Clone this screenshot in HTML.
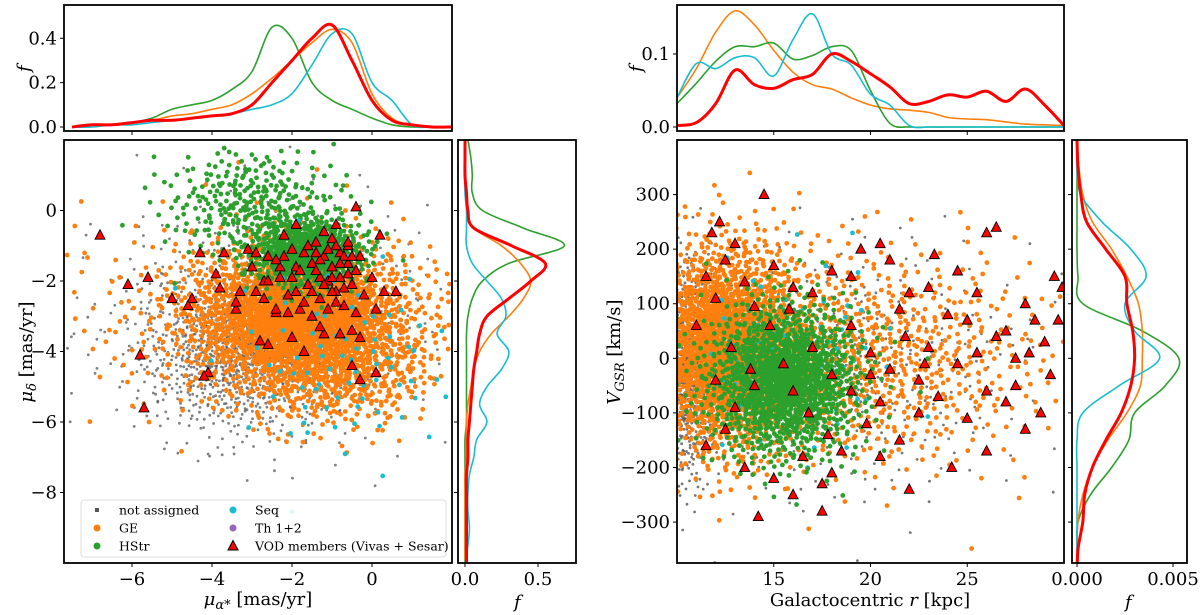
<!DOCTYPE html>
<html><head><meta charset="utf-8">
<style>
html,body{margin:0;padding:0;background:#fff;}
svg{display:block;font-family:"DejaVu Serif","Liberation Serif",serif;}
</style></head>
<body>
<svg id="chart" width="1200" height="615" viewBox="0 0 1200 615" xmlns="http://www.w3.org/2000/svg"></svg>
<script>
// ---------- data ----------
const ltX=[-7.5,-7,-6.5,-6,-5.5,-5,-4.5,-4,-3.5,-3,-2.5,-2,-1.5,-1,-0.5,0,0.5,1,1.5,2];
const ltGreen=[0,0.01,0.01,0.02,0.04,0.08,0.1,0.12,0.17,0.25,0.45,0.40,0.2,0.12,0.08,0.04,0.01,0,0,0];
const ltOrange=[0,0.01,0.01,0.02,0.03,0.05,0.06,0.08,0.1,0.15,0.22,0.3,0.38,0.44,0.38,0.15,0.04,0.01,0,0];
const ltCyan=[0,0,0.01,0.01,0.02,0.03,0.04,0.05,0.06,0.08,0.1,0.15,0.28,0.42,0.42,0.2,0.12,0.01,0,0];
const ltRed=[0,0.01,0.01,0.02,0.03,0.03,0.04,0.05,0.06,0.1,0.2,0.3,0.4,0.46,0.3,0.12,0.03,0.01,0,0];
const lmY=[-10,-9.5,-9,-8.5,-8,-7.5,-7,-6.5,-6,-5.5,-5,-4.5,-4,-3.5,-3,-2.5,-2,-1.5,-1,-0.5,0,0.5,1,1.5,2];
const lmGreen=[0,0,0,0,0,0,0,0,0.01,0.01,0.01,0.01,0.01,0.01,0.02,0.05,0.12,0.3,0.68,0.4,0.12,0.05,0.05,0.04,0.02];
const lmOrange=[0,0,0,0,0,0,0.01,0.01,0.01,0.02,0.04,0.06,0.1,0.18,0.3,0.4,0.45,0.38,0.25,0.06,0.02,0.01,0,0,0];
const lmRed=[0.01,0.01,0.01,0.01,0.01,0.01,0.02,0.02,0.03,0.04,0.05,0.06,0.08,0.1,0.15,0.3,0.45,0.55,0.32,0.06,0.02,0.01,0,0,0];
const lmCyan=[0,0.02,0.03,0.02,0.02,0.03,0.06,0.08,0.15,0.1,0.15,0.25,0.3,0.22,0.28,0.25,0.15,0.05,0.01,0.01,0.01,0,0,0,0];
const rtX=[10,11,12,13,14,15,16,17,18,19,20,21,22,23,24,25,26,27,28,29,30];
const rtOrange=[0.04,0.08,0.13,0.159,0.14,0.105,0.075,0.058,0.052,0.04,0.03,0.025,0.023,0.02,0.013,0.011,0.01,0.007,0.004,0.003,0.002];
const rtGreen=[0.032,0.06,0.09,0.11,0.11,0.115,0.093,0.098,0.11,0.105,0.05,0.005,0,0,0,0,0,0,0,0,0];
const rtCyan=[0.04,0.087,0.08,0.095,0.095,0.07,0.12,0.155,0.1,0.085,0.045,0.03,0.002,0,0,0,0,0,0,0,0];
const rtRed=[0.002,0.006,0.032,0.078,0.058,0.053,0.065,0.072,0.1,0.09,0.073,0.055,0.032,0.035,0.044,0.041,0.049,0.035,0.052,0.03,0.002];
const rmY=[-400,-350,-300,-250,-200,-150,-100,-50,0,50,100,150,200,250,300,350,400];
const rmGreen=[0,0,0.05,0.7,1.8,2.7,3.0,4.6,5.3,3.4,0.3,0.05,0,0,0,0,0];
const rmCyan=[0,0,0,0,0,0,0.3,2.2,4.3,3.0,2.5,3.6,2.8,1.3,0.2,0,0];
const rmOrange=[0,0,0.05,0.3,0.8,1.6,2.6,3.3,3.4,3.4,3.2,2.6,1.8,0.8,0.3,0.1,0];
const rmRed=[0,0.05,0.3,0.4,0.8,1.5,2.3,2.8,3.0,2.9,2.6,2.5,1.5,0.5,0.2,0.05,0];
// scatter population descriptors: [centerX, centerY, sdX, sdY, count]
const lGrey=[[-3.3,-4,1.2,1.1,1000],[-2.5,-3,2.2,1.8,500]];
const lOrange=[[-1.8,-3,1.4,1.0,2000],[-0.9,-4.5,1.2,0.8,500],[-3,-3,2.5,1.5,300]];
const lGreen=[[-1.6,-1.2,0.7,0.5,700],[-3,0.2,1.1,0.8,300]];
const lCyan=[[-0.6,-4.3,1.4,1.5,80]];
const rGrey=[[10.6,-20,0.6,100,600],[18,-20,5,110,500]];
const rOrange=[[12.5,20,2,95,2000],[19,0,5,100,900]];
const rGreen=[[15.5,-40,2,70,1300]];
const rCyan=[[16,0,2.5,90,80]];
const lTri=[[-6.8,-0.7],[-6.1,-2.1],[-5.8,-4.1],[-5.7,-5.6],[-5.6,-1.9],[-5.0,-2.5],[-4.5,-2.5],[-4.1,-4.6],[-4.2,-4.7],[-3.9,-1.8],[-4.3,-1.2],[-3.8,-2.2],[-3.7,-1.2],[-3.3,-2.3],[-3.4,-2.8],[-3.0,-1.6],[-2.9,-1.2],[-2.8,-3.7],[-2.7,-2.0],[-2.6,-1.3],[-2.6,-3.8],[-2.4,-2.9],[-2.3,-1.9],[-2.2,-0.7],[-2.1,-2.4],[-2.0,-3.6],[-1.9,-1.6],[-1.9,-0.4],[-1.8,-2.8],[-1.7,-1.2],[-1.6,-2.1],[-1.5,-3.0],[-1.5,-1.5],[-1.4,-0.9],[-1.3,-1.9],[-1.3,-2.5],[-1.2,-1.3],[-1.2,-3.5],[-1.1,-2.0],[-1.0,-0.8],[-1.0,-1.6],[-0.9,-2.3],[-0.8,-3.5],[-0.8,-1.2],[-0.8,-1.9],[-0.7,-2.7],[-0.9,-0.4],[-0.6,-1.5],[-0.5,-3.4],[-0.5,-2.1],[-0.6,-1.0],[-0.4,-1.7],[-0.4,-2.9],[-0.3,-1.3],[0.1,-4.6],[-0.2,-2.4],[0.0,-1.9],[0.1,-2.8],[-0.3,-4.8],[-0.4,0.1],[0.2,-0.7],[0.3,-2.3],[0.6,-2.3],[-0.5,-4.4],[-2.4,-2.8],[-1.9,-2.3],[-2.6,-2.0],[-3.1,-1.1],[-1.2,-0.6],[-1.7,-4.0],[-4.6,-2.7],[-3.4,-2.6],
 [-1.1,-1.1],[-0.9,-1.0],[-0.7,-1.3],[-1.3,-1.4],[-0.6,-1.8],[-1.0,-2.3],[-0.8,-1.5],[-1.4,-1.7],[-0.5,-1.3],[-1.6,-1.0],[-2.2,-1.3],[-2.0,-1.1],[-1.8,-1.7],[-2.3,-1.6],[-1.5,-2.3],[-1.2,-2.1],[-0.9,-2.6],[-1.1,-2.8],[-0.7,-2.2],[-2.0,-1.9],[-2.4,-1.4],[-2.7,-2.5],[-2.9,-2.3],[-1.7,-2.6],[-2.1,-2.9],[-1.3,-3.3],[-0.3,-3.6],[-0.6,-0.9],[-1.0,-1.9],[-1.4,-1.2]];
const rTri=[[14.5,300],[12.2,250],[11.8,230],[13,210],[12.5,180],[15,170],[11.5,150],[13.5,140],[16,130],[12,110],[14,95],[17,120],[18,160],[19,150],[19.5,200],[20.5,210],[21,180],[22,120],[21.5,90],[23,130],[24,80],[25,70],[26,230],[26.5,240],[25.5,120],[27,50],[28,100],[28.5,70],[29,30],[29.5,150],[29.9,130],[23,20],[24.5,-10],[22.5,-40],[21,-20],[20,10],[19,60],[18,-30],[17,20],[16,-60],[15.5,-10],[14,-50],[13,-90],[12.5,-130],[11.5,-160],[13.5,-200],[15,-220],[16.5,-180],[17.5,-230],[18.5,-170],[19.8,-120],[20.5,-80],[21.5,-150],[22.5,-100],[23.5,-70],[24.2,-200],[25,-110],[26,-60],[27,-80],[28,-130],[28.8,-100],[29.3,-30],[27.5,0],[26.5,40],[25.5,10],[14.2,-290],[17.5,-280],[16,-250],[18,-210],[12,-40],[11,60],[12.8,20],[13.8,-20],[14.8,60],[15.8,90],[16.8,-100],[17.8,-140],[19,-60],[20.5,-180],[22,-240],[20,-30],[21.8,40],[23.3,190],[24.5,160],[22.8,-10],[27.5,-50],[26,-170],[29.7,70],[28.2,10]];
const lxTicks=[-6,-4,-2,0];
const lyTicks=[0,-2,-4,-6,-8];
const ltTicks=[0,0.2,0.4];
const lmTicks=[0,0.5];
const rxTicks=[15,20,25];
const ryTicks=[300,200,100,0,-100,-200,-300];
const rtTicks=[0,0.1];
const rmTicks=[0,0.005];

// ---------- helpers ----------
const NS='http://www.w3.org/2000/svg';
const svg=document.getElementById('chart');
const FS=18;
function mk(tag,attrs,parent){const e=document.createElementNS(NS,tag);for(const k in attrs)e.setAttribute(k,attrs[k]);(parent||svg).appendChild(e);return e;}
function lin(d0,d1,r0,r1){return v=>r0+(v-d0)*(r1-r0)/(d1-d0);}
function halton(i,b){let f=1,r=0;while(i>0){f/=b;r+=f*(i%b);i=Math.floor(i/b);}return r;}
function spline(pts){let d='M'+pts[0][0].toFixed(1)+','+pts[0][1].toFixed(1);
 for(let i=0;i<pts.length-1;i++){const p0=pts[Math.max(0,i-1)],p1=pts[i],p2=pts[i+1],p3=pts[Math.min(pts.length-1,i+2)];
  const c1=[p1[0]+(p2[0]-p0[0])/6,p1[1]+(p2[1]-p0[1])/6],c2=[p2[0]-(p3[0]-p1[0])/6,p2[1]-(p3[1]-p1[1])/6];
  d+='C'+c1[0].toFixed(1)+','+c1[1].toFixed(1)+' '+c2[0].toFixed(1)+','+c2[1].toFixed(1)+' '+p2[0].toFixed(1)+','+p2[1].toFixed(1);}
 return d;}
function clip(id,x,y,w,h){const c=mk('clipPath',{id:id});mk('rect',{x:x,y:y,width:w,height:h},c);}
function frame(x,y,w,h,name){const r=mk('rect',{x:x,y:y,width:w,height:h,fill:'none',stroke:'#000','stroke-width':1.8});
 }
function txt(s,x,y,o,name){const t=mk('text',Object.assign({x:x,y:y,'font-size':FS,fill:'#000'},o||{}));t.textContent=s;
 return t;}
function xTicks(ticks,sx,yb,labels,fmt,name){ticks.forEach(v=>{const x=sx(v);mk('line',{x1:x,x2:x,y1:yb,y2:yb+4,stroke:'#000','stroke-width':1});
 if(labels){txt(fmt(v),x,yb+22,{'text-anchor':'middle'},name);}});}
function yTicks(ticks,sy,xl,labels,fmt,name){ticks.forEach(v=>{const y=sy(v);mk('line',{x1:xl-4,x2:xl,y1:y,y2:y,stroke:'#000','stroke-width':1});
 if(labels){txt(fmt(v),xl-7,y+6,{'text-anchor':'end'},name);}});}
function minus(s){return s.replace('-','\u2212');}
function cloud(groups,sx,sy,color,r,op,cp,name,off){const g=mk('g',{'clip-path':'url(#'+cp+')',fill:color,'fill-opacity':op});
 
 let idx=off;groups.forEach(gr=>{for(let k=0;k<gr[4];k++){idx++;const u1=Math.max(1e-6,halton(idx,2)),u2=halton(idx,3);
  const m=Math.sqrt(-2*Math.log(u1));const zx=m*Math.cos(2*Math.PI*u2),zy=m*Math.sin(2*Math.PI*u2);
  mk('circle',{cx:sx(gr[0]+gr[2]*zx).toFixed(1),cy:sy(gr[1]+gr[3]*zy).toFixed(1),r:r},g);}});}
function tris(list,sx,sy,cp,name){const g=mk('g',{'clip-path':'url(#'+cp+')'});
 list.forEach(p=>{const x=sx(p[0]),y=sy(p[1]);const t=mk('polygon',{points:(x-5)+','+(y+4)+' '+(x+5)+','+(y+4)+' '+x+','+(y-5.5),fill:'#ff0000',stroke:'#000','stroke-width':0.9},g);
  });}
function curveH(xs,ys,sx,sy,color,w,cp,name){const p=mk('path',{d:spline(xs.map((v,i)=>[sx(v),sy(ys[i])])),fill:'none',stroke:color,'stroke-width':w,'clip-path':'url(#'+cp+')'});
 }
function curveV(ys,xs,sx,sy,color,w,cp,name){const p=mk('path',{d:spline(ys.map((v,i)=>[sx(xs[i]),sy(v)])),fill:'none',stroke:color,'stroke-width':w,'clip-path':'url(#'+cp+')'});
 }

const C={grey:'#555',orange:'#ff7f0e',green:'#2ca02c',cyan:'#17becf',purple:'#9467bd',red:'#ff0000'};

// ---------- LEFT ----------
const L={x:64,y:140,w:388,h:423};
const lsx=lin(-7.7,2.0,L.x,L.x+L.w), lsy=lin(2,-10,L.y,L.y+L.h);
clip('cpL',L.x,L.y,L.w,L.h);
cloud(lGrey,lsx,lsy,C.grey,1.4,0.75,'cpL','not-assigned-points',0);
cloud(lOrange,lsx,lsy,C.orange,2.4,1,'cpL','ge-points',3000);
cloud(lGreen,lsx,lsy,C.green,2.4,1,'cpL','hstr-points',7000);
cloud(lCyan,lsx,lsy,C.cyan,2.4,1,'cpL','seq-points',11000);
tris(lTri,lsx,lsy,'cpL','vod-members-left');
frame(L.x,L.y,L.w,L.h,'left-main-panel');
xTicks(lxTicks,lsx,L.y+L.h,true,v=>minus(String(v)),'left-x-tick-label');
yTicks(lyTicks,lsy,L.x,true,v=>minus(String(v)),'left-y-tick-label');
const lxl=txt('',258,605,{'text-anchor':'middle'},'left-x-axis-title');lxl.innerHTML='<tspan font-style="italic">μ</tspan><tspan font-size="13" dy="4" font-style="italic">α*</tspan><tspan dy="-4"> [mas/yr]</tspan>';
const lyl=txt('',32,352,{'text-anchor':'middle',transform:'rotate(-90 32 352)'},'left-y-axis-title');lyl.innerHTML='<tspan font-style="italic">μ</tspan><tspan font-size="13" dy="4" font-style="italic">δ</tspan><tspan dy="-4"> [mas/yr]</tspan>';
// legend
const lg=mk('g',{});
mk('rect',{x:81,y:500,width:365,height:57,rx:3,fill:'#fff','fill-opacity':0.85,stroke:'#ddd'},lg);
const legItems=[['not assigned','sq',C.grey,97,510],['GE','c',C.orange,97,528],['HStr','c',C.green,97,546],['Seq','c',C.cyan,233,510],['Th 1+2','c',C.purple,233,528],['VOD members (Vivas + Sesar)','t',C.red,233,546]];
legItems.forEach(it=>{const g=mk('g',{},lg);
 if(it[1]==='sq')mk('rect',{x:it[3]-2,y:it[4]-2,width:4,height:4,fill:it[2]},g);
 else if(it[1]==='c')mk('circle',{cx:it[3],cy:it[4],r:3.5,fill:it[2]},g);
 else mk('polygon',{points:(it[3]-5)+','+(it[4]+4)+' '+(it[3]+5)+','+(it[4]+4)+' '+it[3]+','+(it[4]-5.5),fill:it[2],stroke:'#000'},g);
 const t=mk('text',{x:it[3]+22,y:it[4]+4.5,'font-size':12.5},g);t.textContent=it[0];});
// left top
const LT={x:64,y:5,w:388,h:126};
const ltsy=lin(0,0.55,127,5);
clip('cpLT',LT.x,LT.y,LT.w,LT.h);
curveH(ltX,ltGreen,lsx,ltsy,C.green,1.6,'cpLT','left-top-hstr-kde');
curveH(ltX,ltOrange,lsx,ltsy,C.orange,1.6,'cpLT','left-top-ge-kde');
curveH(ltX,ltCyan,lsx,ltsy,C.cyan,1.6,'cpLT','left-top-seq-kde');
curveH(ltX,ltRed,lsx,ltsy,C.red,3,'cpLT','left-top-vod-kde');
frame(LT.x,LT.y,LT.w,LT.h,'left-top-panel');
xTicks(lxTicks,lsx,LT.y+LT.h,false);
yTicks(ltTicks,ltsy,LT.x,true,v=>v.toFixed(1),'left-top-y-tick-label');
txt('f',20,74,{'font-style':'italic',transform:'rotate(-90 24 68)'},'left-top-y-axis-title');
// left marginal
const LM={x:458,y:140,w:118,h:423};
const lmsx=lin(0,0.5,465,538);
clip('cpLM',LM.x,LM.y,LM.w,LM.h);
curveV(lmY,lmGreen,lmsx,lsy,C.green,1.6,'cpLM','left-marg-hstr-kde');
curveV(lmY,lmOrange,lmsx,lsy,C.orange,1.6,'cpLM','left-marg-ge-kde');
curveV(lmY,lmCyan,lmsx,lsy,C.cyan,1.6,'cpLM','left-marg-seq-kde');
curveV(lmY,lmRed,lmsx,lsy,C.red,3,'cpLM','left-marg-vod-kde');
frame(LM.x,LM.y,LM.w,LM.h,'left-marginal-panel');
yTicks(lyTicks,lsy,LM.x,false);
xTicks(lmTicks,lmsx,LM.y+LM.h,true,v=>v.toFixed(1),'left-marg-x-tick-label');
txt('f',514,608,{'font-style':'italic'},'left-marg-x-axis-title');

// ---------- RIGHT ----------
const R={x:677,y:140,w:387,h:423};
const rsx=lin(10,30,R.x,R.x+R.w), rsy=lin(400,-375,R.y,R.y+R.h);
clip('cpR',R.x,R.y,R.w,R.h);
cloud(rGrey,rsx,rsy,C.grey,1.4,0.8,'cpR','not-assigned-points-right',20000);
cloud(rOrange,rsx,rsy,C.orange,2.4,1,'cpR','ge-points-right',23000);
cloud(rCyan,rsx,rsy,C.cyan,2.4,1,'cpR','seq-points-right',31000);
cloud(rGreen,rsx,rsy,C.green,2.4,1,'cpR','hstr-points-right',27000);
tris(rTri,rsx,rsy,'cpR','vod-members-right');
frame(R.x,R.y,R.w,R.h,'right-main-panel');
xTicks(rxTicks,rsx,R.y+R.h,true,v=>String(v),'right-x-tick-label');
yTicks(ryTicks,rsy,R.x,true,v=>minus(String(v)),'right-y-tick-label');
const rxl=txt('',870,606,{'text-anchor':'middle'},'right-x-axis-title');rxl.innerHTML='Galactocentric <tspan font-style="italic">r</tspan> [kpc]';
const ryl=txt('',620,352,{'text-anchor':'middle',transform:'rotate(-90 620 352)'},'right-y-axis-title');ryl.innerHTML='<tspan font-style="italic">V</tspan><tspan font-size="13" dy="4" font-style="italic">GSR</tspan><tspan dy="-4"> [km/s]</tspan>';
// right top
const RT={x:677,y:5,w:387,h:126};
const rtsy=lin(0,0.1,127,54);
clip('cpRT',RT.x,RT.y,RT.w,RT.h);
curveH(rtX,rtOrange,rsx,rtsy,C.orange,1.6,'cpRT','right-top-ge-kde');
curveH(rtX,rtGreen,rsx,rtsy,C.green,1.6,'cpRT','right-top-hstr-kde');
curveH(rtX,rtCyan,rsx,rtsy,C.cyan,1.6,'cpRT','right-top-seq-kde');
curveH(rtX,rtRed,rsx,rtsy,C.red,3,'cpRT','right-top-vod-kde');
frame(RT.x,RT.y,RT.w,RT.h,'right-top-panel');
xTicks(rxTicks,rsx,RT.y+RT.h,false);
yTicks(rtTicks,rtsy,RT.x,true,v=>v.toFixed(1),'right-top-y-tick-label');
txt('f',632,74,{'font-style':'italic',transform:'rotate(-90 636 68)'},'right-top-y-axis-title');
// right marginal
const RM={x:1072,y:140,w:115,h:423};
const rmsx=lin(0,5,1077,1173);
clip('cpRM',RM.x,RM.y,RM.w,RM.h);
curveV(rmY,rmGreen,rmsx,rsy,C.green,1.6,'cpRM','right-marg-hstr-kde');
curveV(rmY,rmOrange,rmsx,rsy,C.orange,1.6,'cpRM','right-marg-ge-kde');
curveV(rmY,rmCyan,rmsx,rsy,C.cyan,1.6,'cpRM','right-marg-seq-kde');
curveV(rmY,rmRed,rmsx,rsy,C.red,3,'cpRM','right-marg-vod-kde');
frame(RM.x,RM.y,RM.w,RM.h,'right-marginal-panel');
yTicks(ryTicks,rsy,RM.x,false);
const rmsx2=lin(0,0.005,1077,1173);
xTicks(rmTicks,rmsx2,RM.y+RM.h,true,v=>v.toFixed(3),'right-marg-x-tick-label');
txt('f',1125,608,{'font-style':'italic'},'right-marg-x-axis-title');
</script>
</body></html>
